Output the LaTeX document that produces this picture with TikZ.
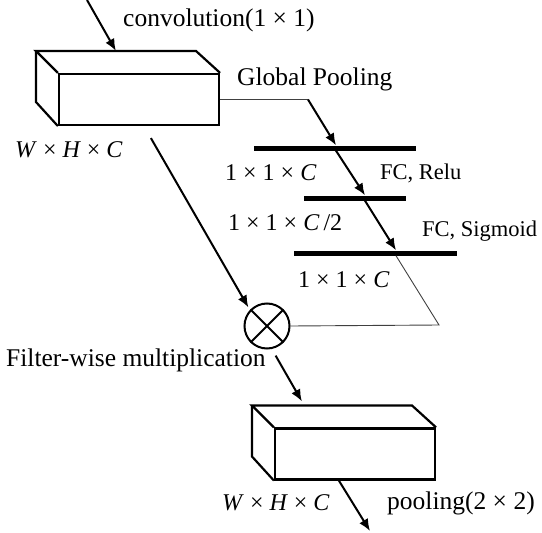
\documentclass[tikz,border=0pt]{standalone}
\usepackage{fontspec}
\setmainfont{Liberation Serif}
\usetikzlibrary{arrows.meta,calc}
\tikzset{
  arr/.style={line width=2pt,-{Latex[length=12pt,width=10pt]}},
  thin line/.style={line width=0.9pt,black!75},
  boxline/.style={line width=2.2pt,line join=miter},
  bar/.style={fill=black,inner sep=0pt,minimum height=5pt},
  lbl/.style={anchor=west,inner sep=0pt,font=\fontsize{25.5}{30}\selectfont},
  mlbl/.style={anchor=west,inner sep=0pt,font=\fontsize{24}{28}\selectfont},
  flbl/.style={anchor=west,inner sep=0pt,font=\fontsize{22.5}{27}\selectfont},
  front/.style={draw,boxline,fill=white,inner sep=0pt,minimum width=160pt,minimum height=51pt},
}
\begin{document}
\begin{tikzpicture}[x=1pt,y=-1pt]
\useasboundingbox (0,0) rectangle (542,533);
% top box
\node[front] (box1) at (139,99.5) {};
\draw[boxline] (box1.north west) -- ++(-22,-22) coordinate (b1tl) -- ++(160,0) coordinate (b1tr) -- (box1.north east);
\draw[boxline] (b1tl) -- ++(0,51) -- (box1.south west);
% bottom box
\node[front] (box2) at (355,454) {};
\draw[boxline] (box2.north west) -- ++(-22,-22) coordinate (b2tl) -- ++(160,0) coordinate (b2tr) -- (box2.north east);
\draw[boxline] (b2tl) -- ++(0,51) -- (box2.south west);
% bars
\node[bar,minimum width=162pt] (bar1) at (335,148) {};
\node[bar,minimum width=102pt] (bar2) at (355,198) {};
\node[bar,minimum width=163pt] (bar3) at (375.5,253) {};
% circle
\node[draw,circle,line width=2pt,minimum size=45pt,inner sep=0pt] (mult) at (267,326) {};
\draw[line width=2pt] (mult.north west) -- (mult.south east) (mult.north east) -- (mult.south west);
% connectors
\coordinate (in) at (87,0);
\coordinate (out) at (370,531);
\coordinate (gp) at (308,99.5);
\coordinate (sg) at (439,325);
\draw[arr] (in) -- ($(b1tl)+(80,0)$);
\draw[thin line] (box1.east) -- (gp);
\draw[arr] (gp) -- ($(bar1.north)+(1,0)$);
\draw[arr] ($(bar1.south)+(1,0)$) -- ($(bar2.north)+(10,0)$);
\draw[arr] ($(bar2.south)+(10,0)$) -- ($(bar3.north)+(20.5,0)$);
\draw[thin line] ($(bar3.south)+(20.5,0)$) -- (sg) -- (mult.east);
\draw[arr] ($(box1.south west)+(93,12)$) -- ($(mult.north west)+(-2,-2)$);
\draw[arr] ($(mult.south east)+(-8,13)$) -- ($(b2tl)+(50,-4)$);
\draw[arr] ($(box2.south west)+(65,0)$) -- (out);
% labels
\node[lbl] (t1) at (123,20) {convolution(1 × 1)};
\node[lbl] (t2) at (237,79) {Global Pooling};
\node[mlbl] (t3) at (15,150) {\textit{W} × \textit{H} × \textit{C}};
\node[mlbl] (t4) at (225,173) {1 × 1 × \textit{C}};
\node[flbl] (t5) at (380,173) {FC, Relu};
\node[mlbl] (t6) at (228,223) {1 × 1 × \textit{C}\,/2};
\node[flbl] (t7) at (422,231) {FC, Sigmoid};
\node[mlbl] (t8) at (298,280) {1 × 1 × \textit{C}};
\node[lbl] (t9) at (6,360) {Filter-wise multiplication};
\node[mlbl] (t10) at (222,503) {\textit{W} × \textit{H} × \textit{C}};
\node[lbl] (t11) at (387,503) {pooling(2 × 2)};
\end{tikzpicture}
\end{document}
